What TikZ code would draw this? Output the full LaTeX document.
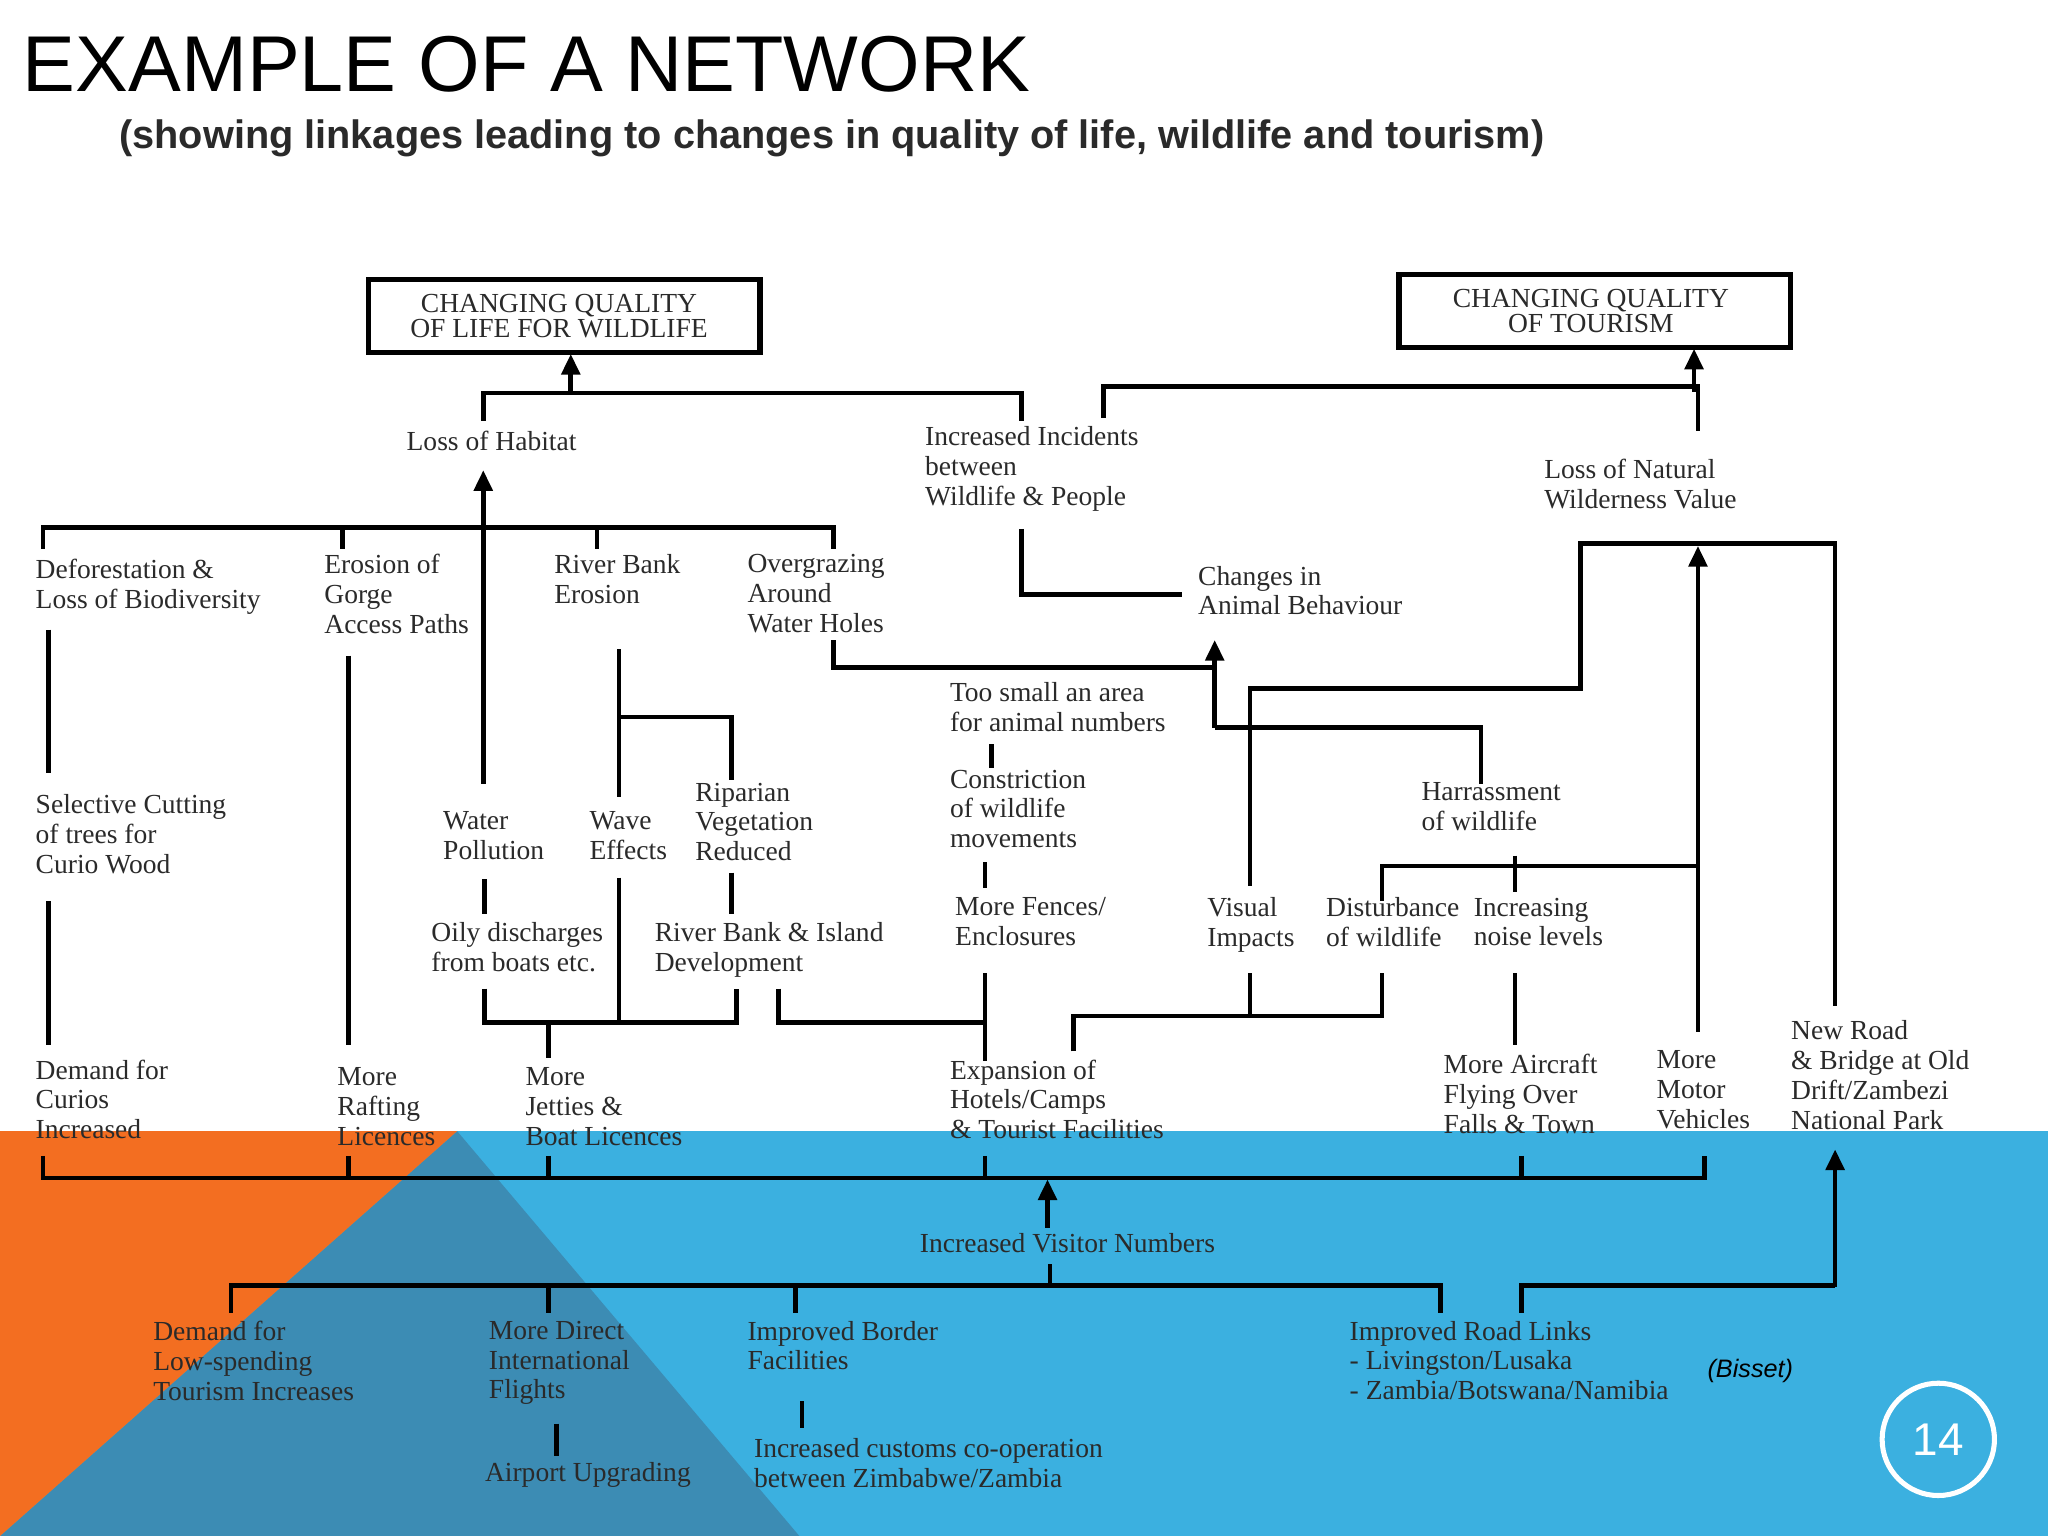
\documentclass[tikz,border=0pt]{standalone}
\usepackage{fontspec}
\setmainfont{Liberation Serif}
\setsansfont{Liberation Sans}
\usetikzlibrary{arrows.meta}
\definecolor{bgblue}{HTML}{3BB0E0}
\definecolor{bgorange}{HTML}{F36E21}
\definecolor{bgslate}{HTML}{3C8CB4}
\definecolor{ink}{HTML}{2A2A2A}
\tikzset{
  t/.style={anchor=north west,inner sep=0pt,align=left,text=ink,font=\fontsize{12}{13}\selectfont},
  ln/.style={line width=2pt,draw=black},
  ar/.style={ln,-{Triangle[length=9pt,width=8pt]}},
  bx/.style={draw=black,line width=2.4pt,inner sep=0pt,align=center,text=ink,font=\fontsize{12}{11}\selectfont}
}
\begin{document}
\begin{tikzpicture}[x=0.02cm,y=-0.02cm]
\useasboundingbox (0,0) rectangle (1568,1176);
\fill[white] (0,0) rectangle (1568,1176);
\fill[bgblue] (0,866) rectangle (1568,1176);
\fill[bgslate] (350,866) -- (612,1176) -- (0,1176) -- cycle;
\fill[bgorange] (0,866) -- (350,866) -- (0,1176) -- cycle;
% title
\node[anchor=base west,inner sep=0,font=\sffamily\fontsize{34.5}{35}\selectfont,text=black] (title) at (17,70) {EXAMPLE OF A NETWORK};
\node[anchor=base west,inner sep=0,font=\sffamily\bfseries\fontsize{17.3}{17}\selectfont,text=ink] (sub) at (91,114) {(showing linkages leading to changes in quality of life, wildlife and tourism)};
% boxes
\draw[line width=2.4pt] (282,214) rectangle (582,270);
\node[bx,draw=none] (wild) at (428,242) {CHANGING QUALITY\\OF LIFE FOR WILDLIFE};
\draw[line width=2.4pt] (1071,210) rectangle (1371,266);
\node[bx,draw=none] (tour) at (1218,238) {CHANGING QUALITY\\OF TOURISM};
% texts
\node[t] (loh) at (311,330) {Loss of Habitat};
\node[t] (inc) at (708,326) {Increased Incidents\\between\\Wildlife \& People};
\node[t] (lnw) at (1182,351) {Loss of Natural\\Wilderness Value};
\node[t] (def) at (27,428) {Deforestation \&\\Loss of Biodiversity};
\node[t] (ero) at (248,424) {Erosion of\\Gorge\\Access Paths};
\node[t] (rbe) at (424,424) {River Bank\\Erosion};
\node[t] (ovg) at (572,424) {Overgrazing\\Around\\Water Holes};
\node[t] (cab) at (917,433) {Changes in\\Animal Behaviour};
\node[t] (tsa) at (727,522) {Too small an area\\for animal numbers};
\node[t] (sel) at (27,608) {Selective Cutting\\of trees for\\Curio Wood};
\node[t] (rip) at (532,599) {Riparian\\Vegetation\\Reduced};
\node[t] (wp) at (339,621) {Water\\Pollution};
\node[t] (we) at (451,621) {Wave\\Effects};
\node[t] (con) at (727,589) {Constriction\\of wildlife\\movements};
\node[t] (har) at (1088,599) {Harrassment\\of wildlife};
\node[t] (oil) at (330,706) {Oily discharges\\from boats etc.};
\node[t] (rbi) at (501,706) {River Bank \& Island\\Development};
\node[t] (fen) at (731,687) {More Fences/\\Enclosures};
\node[t] (vis) at (924,687) {Visual\\Impacts};
\node[t] (dis) at (1015,687) {Disturbance\\of wildlife};
\node[t] (noi) at (1128,687) {Increasing\\noise levels};
\node[t] (cur) at (27,811) {Demand for\\Curios\\Increased};
\node[t] (raf) at (258,817) {More\\Rafting\\Licences};
\node[t] (jet) at (402,817) {More\\Jetties \&\\Boat Licences};
\node[t] (hot) at (727,811) {Expansion of\\Hotels/Camps\\\& Tourist Facilities};
\node[t] (air) at (1105,807) {More Aircraft\\Flying Over\\Falls \& Town};
\node[t] (mot) at (1268,804) {More\\Motor\\Vehicles};
\node[t] (nrd) at (1371,781) {New Road\\\& Bridge at Old\\Drift/Zambezi\\National Park};
\node[t] (ivn) at (704,944) {Increased Visitor Numbers};
\node[t] (low) at (117,1011) {Demand for\\Low-spending\\Tourism Increases};
\node[t] (dir) at (374,1011) {More Direct\\International\\Flights};
\node[t] (bor) at (572,1011) {Improved Border\\Facilities};
\node[t] (road) at (1033,1011) {Improved Road Links\\- Livingston/Lusaka\\- Zambia/Botswana/Namibia};
\node[t] (apt) at (371,1119) {Airport Upgrading};
\node[t] (cus) at (577,1101) {Increased customs co-operation\\between Zimbabwe/Zambia};
\node[anchor=west,inner sep=0,font=\sffamily\itshape\fontsize{11}{11}\selectfont,text=black] (bis) at (1307,1050) {(Bisset)};
\draw[white,line width=2.2pt] (1484,1102) circle (43);
\node[font=\sffamily\fontsize{20}{20}\selectfont,text=white] (pg) at (1484,1102) {14};
% connectors top
\draw[ln] (370,322) -- (370,301) -- (782,301) -- (782,322);
\draw[ar] (437,301) -- (437,271);
\draw[ln] (845,320) -- (845,296) -- (1300,296) -- (1300,330);
\draw[ar] (1297,300) -- (1297,267);
\draw[ar] (370,600) -- (370,360);
\draw[ln] (33,420) -- (33,404) -- (638,404) -- (638,420);
\draw[ln] (262,404) -- (262,420);
\draw[ln] (457,404) -- (457,420);
\draw[ln] (782,405) -- (782,455) -- (905,455);
\draw[ln] (1405,770) -- (1405,416) -- (1210,416) -- (1210,527) -- (957,527) -- (957,678);
\draw[ar] (1300,790) -- (1300,418);
\draw[ln] (638,490) -- (638,511) -- (930,511);
\draw[ar] (930,557) -- (930,490);
\draw[ln] (930,557) -- (1134,557) -- (1134,600);
\draw[ln] (1058,690) -- (1058,663) -- (1300,663);
\draw[ln] (1160,655) -- (1160,683);
\draw[ln] (37,482) -- (37,592);
\draw[ln] (37,690) -- (37,800);
\draw[ln] (267,502) -- (267,800);
\draw[ln] (474,497) -- (474,610);
\draw[ln] (474,672) -- (474,783);
\draw[ln] (474,549) -- (560,549) -- (560,597);
\draw[ln] (371,673) -- (371,700);
\draw[ln] (560,668) -- (560,700);
\draw[ln] (371,757) -- (371,783) -- (564,783) -- (564,757);
\draw[ln] (420,783) -- (420,810);
\draw[ln] (596,757) -- (596,783) -- (754,783);
\draw[ln] (759,570) -- (759,588);
\draw[ln] (754,660) -- (754,680);
\draw[ln] (754,745) -- (754,812);
\draw[ln] (822,805) -- (822,778) -- (1058,778) -- (1058,745);
\draw[ln] (957,745) -- (957,778);
\draw[ln] (1160,745) -- (1160,800);
% bottom bars
\draw[ln] (33,885) -- (33,902) -- (1305,902) -- (1305,885);
\foreach \x in {267,420,754,1165} \draw[ln] (\x,885) -- (\x,902);
\draw[ar] (802,940) -- (802,903);
\draw[ln] (177,1005) -- (177,984) -- (1103,984) -- (1103,1005);
\foreach \x in {420,609} \draw[ln] (\x,984) -- (\x,1005);
\draw[ln] (804,968) -- (804,984);
\draw[ln] (1165,1005) -- (1165,984) -- (1405,984);
\draw[ar] (1405,985) -- (1405,880);
\draw[ln] (426,1090) -- (426,1115);
\draw[ln] (614,1073) -- (614,1093);
\end{tikzpicture}
\end{document}
